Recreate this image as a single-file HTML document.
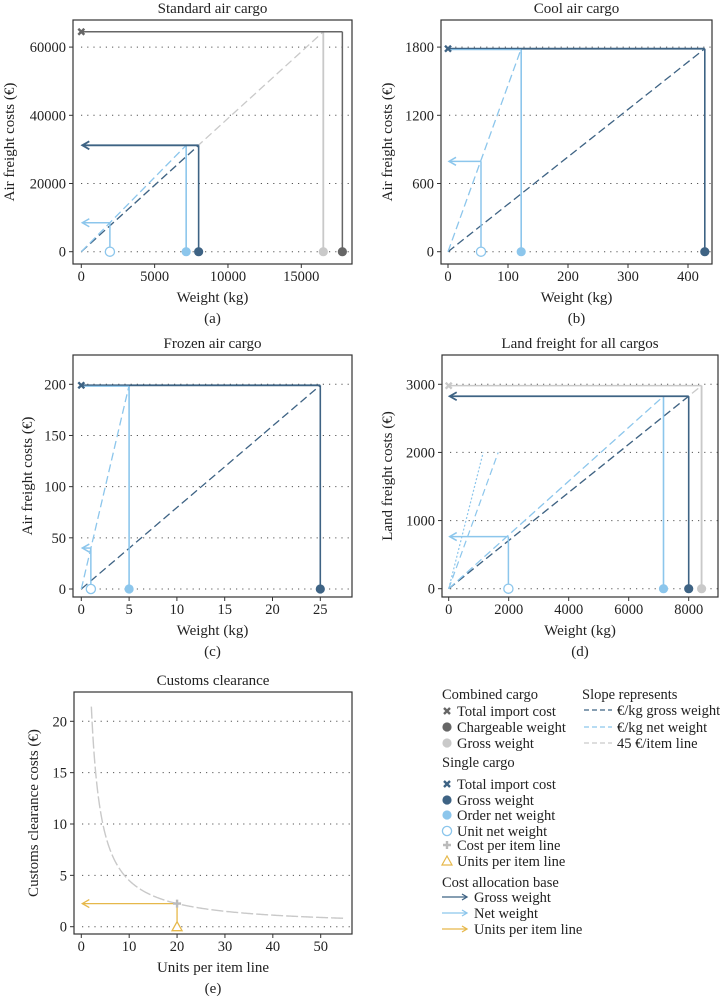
<!DOCTYPE html>
<html><head><meta charset="utf-8">
<style>
html,body{margin:0;padding:0;background:#fff;}
svg{display:block;font-family:"Liberation Serif",serif;}
</style></head>
<body>
<svg id="chart" width="720" height="998" viewBox="0 0 720 998" xmlns="http://www.w3.org/2000/svg"></svg>
<script>
// ---------- data ----------
// panel a: Standard air cargo
const aXTicks = [0, 5000, 10000, 15000];
const aYTicks = [0, 20000, 40000, 60000];
const aCombined = [64500, 17800, 16500];          // total cost, chargeable weight, gross weight
const aSingle = [31200, 8000, 7150, 1950, 8500];   // total cost, gross wt, order net wt, unit net wt, unit cost
// panel b: Cool air cargo
const bXTicks = [0, 100, 200, 300, 400];
const bYTicks = [0, 600, 1200, 1800];
const bSingle = [1786, 428, 122, 55, 795];
// panel c: Frozen air cargo
const cXTicks = [0, 5, 10, 15, 20, 25];
const cYTicks = [0, 50, 100, 150, 200];
const cSingle = [199, 25, 5, 1, 40];
// panel d: Land freight
const dXTicks = [0, 2000, 4000, 6000, 8000];
const dYTicks = [0, 1000, 2000, 3000];
const dCombined = [2980, 8430, 8430];
const dSingle = [2825, 8000, 7160, 1990, 765];
const dSteepX = [1150, 1650];   // extra slope lines reaching 2000
const dSteepY = [2000, 2000];
// panel e: Customs clearance
const eXTicks = [0, 10, 20, 30, 40, 50];
const eYTicks = [0, 5, 10, 15, 20];
const eCostPerLine = [45];
const eUnits = [20];
const eCurveRange = [2.1, 55];

const DB = '#3e6384', LB = '#8cc6ec', LG = '#c9c9c9', DG = '#666666', GOLD = '#e6b84a';
const FS = 14.5;
const NS = 'http://www.w3.org/2000/svg';
const svg = document.getElementById('chart');

function mk(tag, attrs, parent) {
  const e = document.createElementNS(NS, tag);
  for (const k in attrs) e.setAttribute(k, attrs[k]);
  (parent || svg).appendChild(e);
  return e;
}
function txt(s, x, y, attrs, parent) {
  const t = mk('text', Object.assign({x: x, y: y, 'font-size': FS, fill: '#222'}, attrs || {}), parent);
  t.textContent = s;
  return t;
}
function line(g, x1, y1, x2, y2, col, w, dash) {
  const l = mk('line', {x1: x1, y1: y1, x2: x2, y2: y2, stroke: col, 'stroke-width': w || 1.5}, g);
  if (dash) l.setAttribute('stroke-dasharray', dash);
  return l;
}
function arrowLeft(g, x1, x2, y, col, w) {
  const l = line(g, x1, y, x2, y, col, w);
  
  
  mk('polyline', {points: (x2 + 7) + ',' + (y - 4) + ' ' + x2 + ',' + y + ' ' + (x2 + 7) + ',' + (y + 4), fill: 'none', stroke: col, 'stroke-width': w || 1.5}, g);
}
function dot(g, x, y, col, open, name) {
  const c = mk('circle', {cx: x, cy: y, r: 4.6, fill: open ? '#fff' : col, stroke: col, 'stroke-width': open ? 1.3 : 0}, g);
  
  
}
function xMark(g, x, y, col, name) {
  const p = mk('path', {d: 'M' + (x - 3) + ' ' + (y - 3) + 'L' + (x + 3) + ' ' + (y + 3) + 'M' + (x - 3) + ' ' + (y + 3) + 'L' + (x + 3) + ' ' + (y - 3), stroke: col, 'stroke-width': 2.4}, g);
  
  
}

function axes(p) {
  const g = mk('g', {});
  
  
  p.yTicks.forEach(v => {
    const y = p.sy(v);
    line(g, p.bx0 + 8, y, p.bx1, y, '#555', 1, '1.2,5');
    line(g, p.bx0 - 4, y, p.bx0, y, '#333', 1);
    const t = txt(String(v), p.bx0 - 7, y + 5, {'text-anchor': 'end'}, g);
    
    
  });
  p.xTicks.forEach(v => {
    const x = p.sx(v);
    line(g, x, p.by1, x, p.by1 + 4, '#333', 1);
    const t = txt(String(v), x, p.by1 + 17, {'text-anchor': 'middle'}, g);
    
    
  });
  mk('rect', {x: p.bx0, y: p.by0, width: p.bx1 - p.bx0, height: p.by1 - p.by0, fill: 'none', stroke: '#333', 'stroke-width': 1.2}, g);
  const cx = (p.bx0 + p.bx1) / 2;
  const t1 = txt(p.title, cx, p.by0 - 7, {'text-anchor': 'middle', 'font-size': 15}, g);
  
  
  const t2 = txt(p.xlab, cx, p.by1 + 38, {'text-anchor': 'middle', 'font-size': 15}, g);
  
  
  const t3 = txt(p.tag, cx, p.by1 + 59, {'text-anchor': 'middle', 'font-size': 15}, g);
  
  
  const ym = (p.by0 + p.by1) / 2;
  const t4 = txt(p.ylab, p.ylx, ym, {'text-anchor': 'middle', 'font-size': 15, transform: 'rotate(-90 ' + p.ylx + ' ' + ym + ')'}, g);
  
  
  return g;
}

function lin(p0, v0, p1, v1) { return v => p0 + (v - v0) * (p1 - p0) / (v1 - v0); }

function drawSingle(g, p, s, withArrow) {
  const [tc, gw, on, un, uc] = s;
  const sx = p.sx, sy = p.sy;
  line(g, sx(0), sy(0), sx(gw), sy(tc), DB, 1.3, '8,4');
  line(g, sx(0), sy(0), sx(on), sy(tc), LB, 1.3, '8,4');
  line(g, sx(gw), sy(0), sx(gw), sy(tc), DB, 1.6);
  line(g, sx(on), sy(0), sx(on), sy(tc), LB, 1.6);
  if (withArrow) {
    line(g, sx(on), sy(tc), sx(0), sy(tc), LB, 1.5);
    arrowLeft(g, sx(gw), sx(0) + 1, sy(tc), DB, 1.8);
  } else {
    line(g, sx(gw), sy(tc), sx(0), sy(tc), DB, 1.8);
    line(g, sx(on), sy(tc) + 1, sx(0), sy(tc) + 1, LB, 1.2);
    xMark(g, sx(0), sy(tc), DB, 'total-import-cost-marker');
  }
  line(g, sx(un), sy(0), sx(un), sy(uc), LB, 1.5);
  arrowLeft(g, sx(un), sx(0) + 1, sy(uc), LB, 1.5);
  dot(g, sx(gw), sy(0), DB, false, 'gross-weight-point');
  dot(g, sx(on), sy(0), LB, false, 'order-net-weight-point');
  dot(g, sx(un), sy(0), LB, true, 'unit-net-weight-point');
}
function drawCombined(g, p, c, chCol, xCol) {
  const [tc, ch, gr] = c;
  const sx = p.sx, sy = p.sy;
  line(g, sx(0), sy(0), sx(gr), sy(tc), LG, 1.3, '8,4');
  line(g, sx(gr), sy(0), sx(gr), sy(tc), LG, 1.8);
  line(g, sx(ch), sy(0), sx(ch), sy(tc), chCol, 1.5);
  line(g, sx(ch), sy(tc), sx(0), sy(tc), chCol, 1.5);
  dot(g, sx(gr), sy(0), LG, false, 'combined-gross-weight-point');
  if (ch !== gr) dot(g, sx(ch), sy(0), DG, false, 'chargeable-weight-point');
  xMark(g, sx(0), sy(tc), xCol, 'combined-total-cost-marker');
}

// ---- panel a ----
const pa = {name: 'panel-standard-air-cargo', title: 'Standard air cargo', xlab: 'Weight (kg)', tag: '(a)', ylab: 'Air freight costs (€)', ylx: 14,
  bx0: 73, bx1: 352, by0: 20, by1: 264, sx: lin(81.3, 0, 301.3, 15000), sy: lin(251.7, 0, 183.5, 20000), xTicks: aXTicks, yTicks: aYTicks};
let g = axes(pa);
drawCombined(g, pa, aCombined, DG, DG);
drawSingle(g, pa, aSingle, true);

// ---- panel b ----
const pb = {name: 'panel-cool-air-cargo', title: 'Cool air cargo', xlab: 'Weight (kg)', tag: '(b)', ylab: 'Air freight costs (€)', ylx: 392,
  bx0: 441, bx1: 712, by0: 20, by1: 264, sx: lin(448, 0, 508, 100), sy: lin(251.7, 0, 183.5, 600), xTicks: bXTicks, yTicks: bYTicks};
g = axes(pb);
drawSingle(g, pb, bSingle, false);

// ---- panel c ----
const pc = {name: 'panel-frozen-air-cargo', title: 'Frozen air cargo', xlab: 'Weight (kg)', tag: '(c)', ylab: 'Air freight costs (€)', ylx: 32,
  bx0: 73, bx1: 352, by0: 355, by1: 597, sx: lin(81.3, 0, 320.3, 25), sy: lin(589, 0, 384.3, 200), xTicks: cXTicks, yTicks: cYTicks};
g = axes(pc);
drawSingle(g, pc, cSingle, false);

// ---- panel d ----
const pd = {name: 'panel-land-freight', title: 'Land freight for all cargos', xlab: 'Weight (kg)', tag: '(d)', ylab: 'Land freight costs (€)', ylx: 392,
  bx0: 442, bx1: 718, by0: 355, by1: 597, sx: lin(448.7, 0, 688.7, 8000), sy: lin(588.7, 0, 384.3, 3000), xTicks: dXTicks, yTicks: dYTicks};
g = axes(pd);
drawCombined(g, pd, dCombined, LG, LG);
dSteepX.forEach((xv, i) => {
  const l = line(g, pd.sx(0), pd.sy(0), pd.sx(xv), pd.sy(dSteepY[i]), LB, 1.2, i === 0 ? '2,2' : '7,4');
  
  
});
drawSingle(g, pd, dSingle, true);

// ---- panel e ----
const pe = {name: 'panel-customs-clearance', title: 'Customs clearance', xlab: 'Units per item line', tag: '(e)', ylab: 'Customs clearance costs (€)', ylx: 38,
  bx0: 74, bx1: 352, by0: 692, by1: 934, sx: lin(81.3, 0, 320.7, 50), sy: lin(926.7, 0, 721.3, 20), xTicks: eXTicks, yTicks: eYTicks};
g = axes(pe);
{
  const k = eCostPerLine[0];
  let d = '';
  for (let i = 0; i <= 300; i++) {
    const u = eCurveRange[0] + (eCurveRange[1] - eCurveRange[0]) * Math.pow(i / 300, 1.6);
    d += (i ? 'L' : 'M') + pe.sx(u).toFixed(2) + ' ' + pe.sy(k / u).toFixed(2);
  }
  const c = mk('path', {d: d, fill: 'none', stroke: LG, 'stroke-width': 1.4, 'stroke-dasharray': '12,3'}, g);
  
  
  const u = eUnits[0], cv = k / u;
  line(g, pe.sx(u), pe.sy(0) - 5, pe.sx(u), pe.sy(cv), GOLD, 1.3);
  arrowLeft(g, pe.sx(u), pe.sx(0) + 1, pe.sy(cv), GOLD, 1.3);
  const px = pe.sx(u), py = pe.sy(cv);
  const pl = mk('path', {d: 'M' + (px - 4) + ' ' + py + 'H' + (px + 4) + 'M' + px + ' ' + (py - 4) + 'V' + (py + 4), stroke: '#bbb', 'stroke-width': 2.4}, g);
  
  
  const ty = pe.sy(0);
  const tr = mk('polygon', {points: px + ',' + (ty - 5) + ' ' + (px - 5) + ',' + (ty + 4) + ' ' + (px + 5) + ',' + (ty + 4), fill: '#fff', stroke: GOLD, 'stroke-width': 1.3}, g);
  
  
}

// ---- legend ----
const lg = mk('g', {});


function lt(s, x, y, name) {
  const t = txt(s, x, y + 5, {'font-size': 14.5}, lg);
  
  
}
lt('Combined cargo', 442, 694, 'legend-heading-combined');
xMark(lg, 447, 711, DG, 'legend-marker'); lt('Total import cost', 457, 711, 'legend-entry');
dot(lg, 447, 727, DG, false, 'legend-marker'); lt('Chargeable weight', 457, 727, 'legend-entry');
dot(lg, 447, 743, LG, false, 'legend-marker'); lt('Gross weight', 457, 743, 'legend-entry');
lt('Single cargo', 442, 762, 'legend-heading-single');
xMark(lg, 447, 784, DB, 'legend-marker'); lt('Total import cost', 457, 784, 'legend-entry');
dot(lg, 447, 800, DB, false, 'legend-marker'); lt('Gross weight', 457, 800, 'legend-entry');
dot(lg, 447, 815, LB, false, 'legend-marker'); lt('Order net weight', 457, 815, 'legend-entry');
dot(lg, 447, 831, LB, true, 'legend-marker'); lt('Unit net weight', 457, 831, 'legend-entry');
mk('path', {d: 'M443 845H451M447 841V849', stroke: '#bbb', 'stroke-width': 2.4}, lg);
lt('Cost per item line', 457, 845, 'legend-entry');
mk('polygon', {points: '447,856 442,865 452,865', fill: '#fff', stroke: GOLD, 'stroke-width': 1.2}, lg);
lt('Units per item line', 457, 861, 'legend-entry');
lt('Cost allocation base', 442, 882, 'legend-heading-allocation');
[[DB, 'Gross weight', 897], [LB, 'Net weight', 913], [GOLD, 'Units per item line', 929]].forEach(r => {
  line(lg, 442, r[2], 467, r[2], r[0], 1.3);
  mk('polyline', {points: '462,' + (r[2] - 3) + ' 467,' + r[2] + ' 462,' + (r[2] + 3), fill: 'none', stroke: r[0], 'stroke-width': 1.3}, lg);
  lt(r[1], 474, r[2], 'legend-entry');
});
lt('Slope represents', 582, 694, 'legend-heading-slope');
[[DB, '€/kg gross weight', 710], [LB, '€/kg net weight', 727], [LG, '45 €/item line', 743]].forEach(r => {
  line(lg, 584, r[2], 612, r[2], r[0], 1.3, '5,3');
  lt(r[1], 617, r[2], 'legend-entry');
});
</script>
</body></html>
